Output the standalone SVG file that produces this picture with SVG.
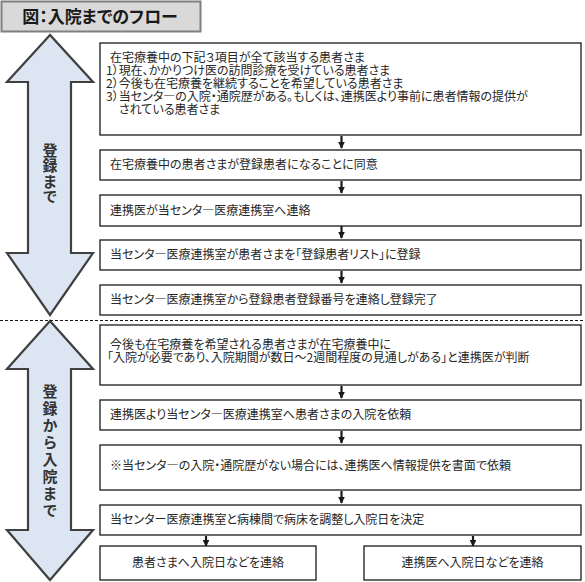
<svg xmlns="http://www.w3.org/2000/svg" width="585" height="582" viewBox="0 0 585 582">
<defs>
<style>
.bg{fill:#ffffff}
.box{fill:#ffffff;stroke:#1a1a1a;stroke-width:1.3}
.t{font-family:"Noto Sans CJK JP","Noto Sans",sans-serif;font-size:12px;fill:#262626;font-feature-settings:"palt"}
.big{fill:#dce6f2;stroke:#404040;stroke-width:2.2;stroke-linejoin:miter}
.vt{font-family:"Noto Sans CJK JP","Noto Sans",sans-serif;font-size:15px;font-weight:bold;fill:#333333;writing-mode:vertical-rl;text-orientation:upright}
.conn{stroke:#1a1a1a;stroke-width:2.2;fill:none}
.head{fill:#1a1a1a}
</style>
<marker id="ah" viewBox="0 0 10 10" refX="9" refY="5" markerWidth="3" markerHeight="3" orient="auto" markerUnits="strokeWidth">
<path d="M0,0 L10,5 L0,10 z" class="head"/>
</marker>
</defs>
<rect class="bg" x="0" y="0" width="585" height="582"/>

<g id="title">
<rect x="1.5" y="1.5" width="199" height="30" fill="#d9d9d9" stroke="#7f7f7f" stroke-width="2"/>
<text x="100" y="23" text-anchor="middle" style="font-family:'Noto Sans CJK JP','Noto Sans',sans-serif;font-size:17px;font-weight:bold;fill:#1a1a1a;font-feature-settings:'palt'">図：入院までのフロー</text>
</g>

<g id="arrow-upper">
<path class="big" d="M50,35 L7,82 L28,82 L28,253 L7,253 L50,315 L93,253 L71,253 L71,82 L93,82 Z"/>
<text class="vt" x="50" y="142.5" style="letter-spacing:0.5px">登録まで</text>
</g>

<g id="arrow-lower">
<path class="big" d="M50,321 L7,369 L28,369 L28,530 L7,530 L50,580 L93,530 L71,530 L71,369 L93,369 Z"/>
<text class="vt" x="50" y="383.5" style="letter-spacing:2px">登録から入院まで</text>
</g>

<line x1="0" y1="320.5" x2="585" y2="320.5" stroke="#1a1a1a" stroke-width="1" stroke-dasharray="3,2"/>

<g id="connectors">
<line class="conn" x1="341.5" y1="136" x2="341.5" y2="148" marker-end="url(#ah)"/>
<line class="conn" x1="341.5" y1="181" x2="341.5" y2="193" marker-end="url(#ah)"/>
<line class="conn" x1="341.5" y1="226" x2="341.5" y2="238" marker-end="url(#ah)"/>
<line class="conn" x1="341.5" y1="271" x2="341.5" y2="283" marker-end="url(#ah)"/>
<line class="conn" x1="341.5" y1="386" x2="341.5" y2="398" marker-end="url(#ah)"/>
<line class="conn" x1="341.5" y1="431" x2="341.5" y2="443" marker-end="url(#ah)"/>
<line class="conn" x1="341.5" y1="491" x2="341.5" y2="503" marker-end="url(#ah)"/>
<line class="conn" x1="206" y1="536" x2="206" y2="546" marker-end="url(#ah)"/>
<line class="conn" x1="473" y1="536" x2="473" y2="546" marker-end="url(#ah)"/>
</g>

<g id="n1">
<rect class="box" x="100" y="43" width="481" height="92"/>
<text class="t"><tspan x="110" y="62">在宅療養中の下記３項目が全て該当する患者さま</tspan><tspan x="106" y="75">1）現在、かかりつけ医の訪問診療を受けている患者さま</tspan><tspan x="106" y="88">2）今後も在宅療養を継続することを希望している患者さま</tspan><tspan x="106" y="101">3）当センタ―の入院・通院歴がある。もしくは、連携医より事前に患者情報の提供が</tspan><tspan x="119" y="114">されている患者さま</tspan></text>
</g>
<g id="n2">
<rect class="box" x="100" y="150" width="481" height="30"/>
<text class="t" x="110" y="169">在宅療養中の患者さまが登録患者になることに同意</text>
</g>
<g id="n3">
<rect class="box" x="100" y="195" width="481" height="31"/>
<text class="t" x="110" y="214.5">連携医が当センタ―医療連携室へ連絡</text>
</g>
<g id="n4">
<rect class="box" x="100" y="240" width="481" height="30"/>
<text class="t" x="110" y="259">当センタ―医療連携室が患者さまを「登録患者リスト」に登録</text>
</g>
<g id="n5">
<rect class="box" x="100" y="285" width="481" height="30"/>
<text class="t" x="110" y="304">当センタ―医療連携室から登録患者登録番号を連絡し登録完了</text>
</g>
<g id="n6">
<rect class="box" x="100" y="325" width="481" height="60"/>
<text class="t"><tspan x="110" y="349">今後も在宅療養を希望される患者さまが在宅療養中に</tspan><tspan x="107" y="361.5">「入院が必要であり、入院期間が数日～2週間程度の見通しがある」と連携医が判断</tspan></text>
</g>
<g id="n7">
<rect class="box" x="100" y="400" width="481" height="30"/>
<text class="t" x="110" y="419">連携医より当センタ―医療連携室へ患者さまの入院を依頼</text>
</g>
<g id="n8">
<rect class="box" x="100" y="445" width="481" height="45"/>
<text class="t" x="110" y="469.5">※当センタ―の入院・通院歴がない場合には、連携医へ情報提供を書面で依頼</text>
</g>
<g id="n9">
<rect class="box" x="100" y="505" width="481" height="30"/>
<text class="t" x="110" y="524">当センター医療連携室と病棟間で病床を調整し入院日を決定</text>
</g>
<g id="n10">
<rect class="box" x="100" y="546" width="216" height="34"/>
<text class="t" x="208" y="567" text-anchor="middle">患者さまへ入院日などを連絡</text>
</g>
<g id="n11">
<rect class="box" x="364" y="546" width="217" height="34"/>
<text class="t" x="472.5" y="567" text-anchor="middle">連携医へ入院日などを連絡</text>
</g>
</svg>
